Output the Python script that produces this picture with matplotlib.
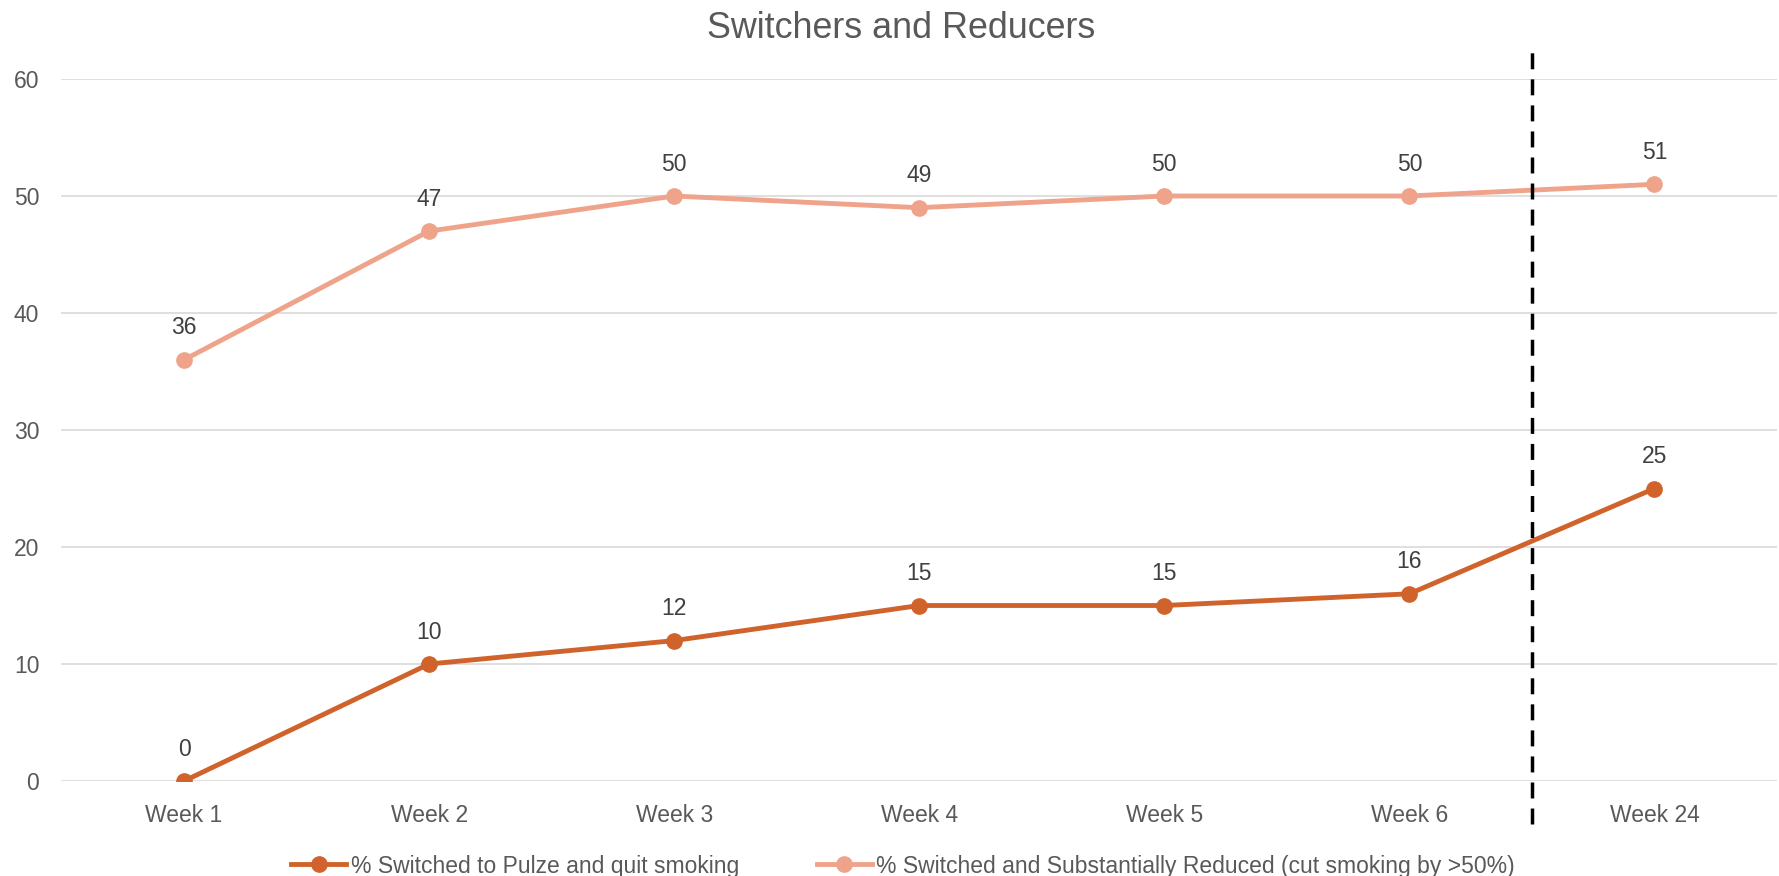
import matplotlib
matplotlib.use("Agg")
import matplotlib.pyplot as plt

# ----- Data -----
weeks        = ["Week 1", "Week 2", "Week 3", "Week 4", "Week 5", "Week 6", "Week 24"]
quit_pct     = [0, 10, 12, 15, 15, 16, 25]
reduced_pct  = [36, 47, 50, 49, 50, 50, 51]
quit_label   = "% Switched to Pulze and quit smoking"
reduce_label = "% Switched and Substantially Reduced (cut smoking by >50%)"
y_ticks      = [0, 10, 20, 30, 40, 50, 60]
# -----------------

DARK  = "#D0632C"
LIGHT = "#EFA38A"
TEXT  = "#595959"
LABEL = "#404040"

plt.rcParams['font.family'] = ['Liberation Sans', 'DejaVu Sans']

fig = plt.figure(figsize=(17.79, 8.76), dpi=100)
ax = fig.add_axes([61.5 / 1779, 1 - 781 / 876, (1777 - 61.5) / 1779, (781 - 79) / 876])

x = list(range(len(weeks)))
ax.plot(x, quit_pct, color=DARK, lw=3.5, marker="o", markersize=11, label=quit_label, zorder=3)
ax.plot(x, reduced_pct, color=LIGHT, lw=3.5, marker="o", markersize=11, label=reduce_label, zorder=3)

for xi, v in zip(x, quit_pct):
    ax.annotate(str(v), (xi, v), xytext=(0, 23), textcoords="offset points",
                ha="center", va="center", fontsize=16.5, color=LABEL)
for xi, v in zip(x, reduced_pct):
    ax.annotate(str(v), (xi, v), xytext=(0, 23), textcoords="offset points",
                ha="center", va="center", fontsize=16.5, color=LABEL)

# divider between week 6 and week 24 (drawn bottom-up so it starts with a dash)
ax.plot([5.5, 5.5], [-3.7, 62.3], color="black", lw=2.5, linestyle=(0, (4.6, 2.9)),
        clip_on=False, zorder=4)

ax.set_xlim(-0.5, len(weeks) - 0.5)
ax.set_ylim(0, 60)
ax.set_yticks(y_ticks)
ax.set_xticks(x)
ax.set_xticklabels(weeks)
ax.grid(axis="y", color="#D9D9D9", lw=1.2, zorder=0)
ax.set_axisbelow(True)
for s in ax.spines.values():
    s.set_visible(False)
ax.tick_params(axis="both", length=0, labelsize=16.5, labelcolor=TEXT)
ax.tick_params(axis="y", pad=16)
ax.tick_params(axis="x", pad=16.5)

fig.text(901 / 1779, 1 - 28 / 876, "Switchers and Reducers", ha="center", va="center",
         fontsize=25.8, color=TEXT)

fig.legend(loc="center", bbox_to_anchor=(903 / 1779, 1 - 866 / 876), ncol=2, frameon=False,
           fontsize=16.5, labelcolor=TEXT, handlelength=2.4, handletextpad=0.2,
           columnspacing=3.4)

fig.savefig("out.png", dpi=100)
